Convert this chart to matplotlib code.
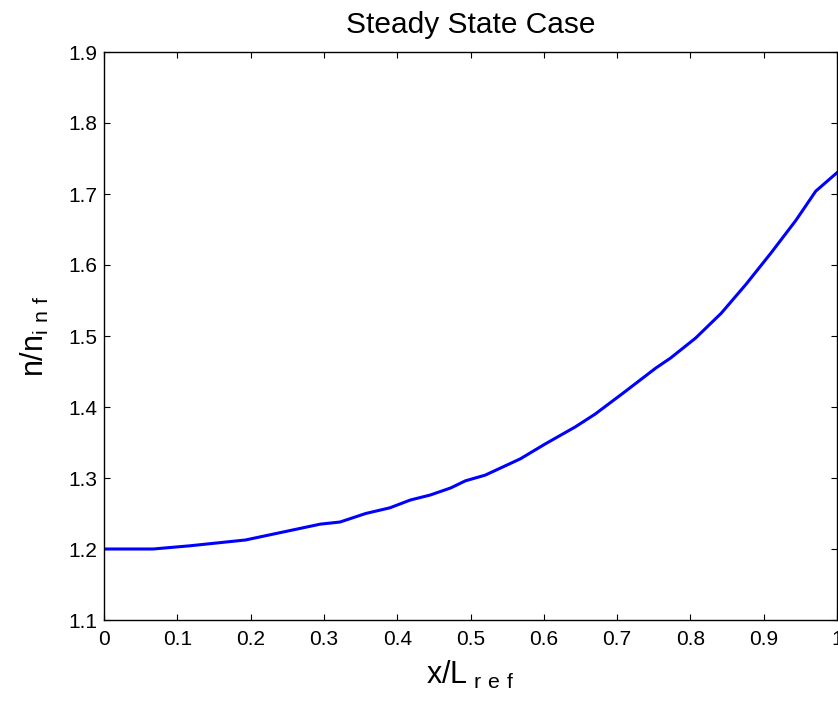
import matplotlib.pyplot as plt

plt.rcParams['font.family'] = ['Liberation Sans', 'DejaVu Sans']
plt.rcParams['mathtext.fontset'] = 'custom'
plt.rcParams['mathtext.rm'] = 'Liberation Sans'

# density profile along the channel
x = [0.0, 0.067, 0.117, 0.193, 0.295, 0.322, 0.357, 0.39, 0.418, 0.445, 0.473,
     0.493, 0.52, 0.568, 0.602, 0.643, 0.67, 0.71, 0.753, 0.773, 0.807, 0.842,
     0.876, 0.91, 0.944, 0.971, 1.0]
n = [1.2, 1.2, 1.2045, 1.2127, 1.235, 1.238, 1.25, 1.258, 1.269, 1.276, 1.286,
     1.296, 1.304, 1.327, 1.348, 1.372, 1.39, 1.421, 1.455, 1.469, 1.497, 1.532,
     1.573, 1.617, 1.663, 1.704, 1.73]

xticks = [0, 0.1, 0.2, 0.3, 0.4, 0.5, 0.6, 0.7, 0.8, 0.9, 1]
yticks = [1.1, 1.2, 1.3, 1.4, 1.5, 1.6, 1.7, 1.8, 1.9]

fig = plt.figure(figsize=(8.38, 7.02), dpi=100)
ax = fig.add_axes([104 / 838, 82 / 702, 733 / 838, 568 / 702])

ax.plot(x, n, color='#0000ff', linewidth=2.2)

ax.set_xlim(0, 1)
ax.set_ylim(1.1, 1.9)
ax.set_xticks(xticks)
ax.set_xticklabels(['0', '0.1', '0.2', '0.3', '0.4', '0.5', '0.6', '0.7', '0.8', '0.9', '1'])
ax.set_yticks(yticks)
ax.tick_params(direction='in', top=True, right=True, length=4, width=0.8,
               labelsize=15, colors='black')
ax.tick_params(axis='x', pad=7)
ax.tick_params(axis='y', pad=5)
for s in ax.spines.values():
    s.set_linewidth(1.0)

ax.set_title('Steady State Case', fontsize=21.5, pad=14)
ax.set_xlabel(r'x/L$_{\mathregular{\ r\ e\ f}}$', fontsize=22, labelpad=7)
ax.set_ylabel(r'n/n$_{\mathregular{i\ n\ f}}$', fontsize=22, labelpad=12)

fig.savefig('out.png', dpi=100)
